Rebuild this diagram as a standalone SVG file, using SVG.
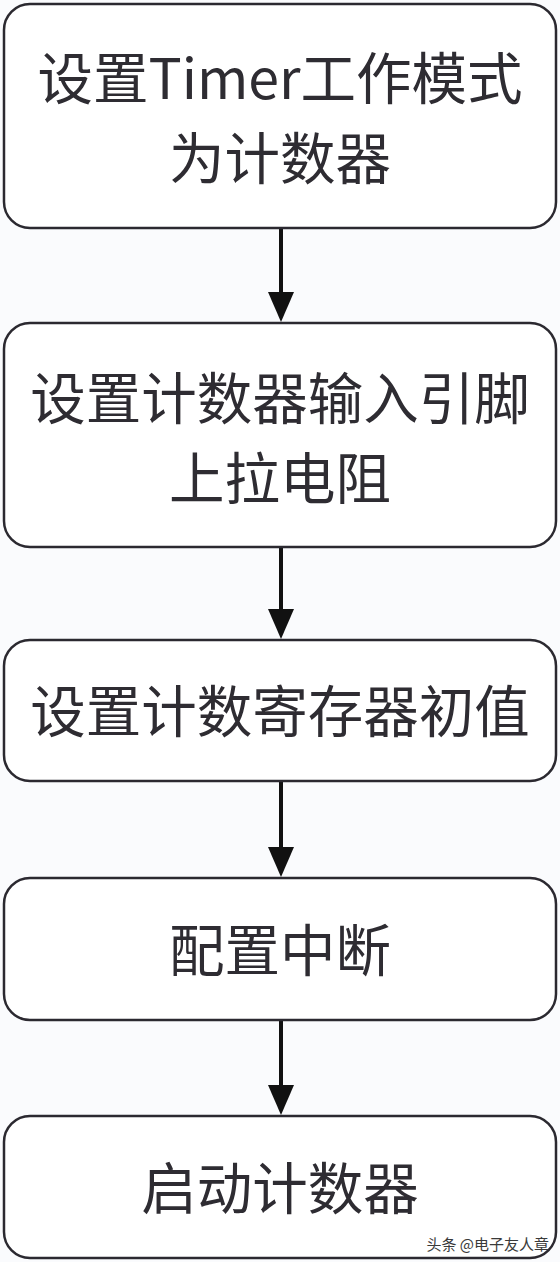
<svg xmlns="http://www.w3.org/2000/svg" width="560" height="1262" viewBox="0 0 560 1262">
<defs>
<style>
.box{fill:#ffffff;stroke:#2b2930;stroke-width:2.5}
.t{font-family:"Noto Sans CJK SC","Noto Sans",sans-serif;font-size:55.5px;font-weight:400;fill:#2e2c32;text-anchor:middle}
.c{stroke:#111;stroke-width:4;fill:none}
.wm{font-family:"Noto Sans CJK SC",sans-serif;font-size:15px;fill:#3a3a3a;text-anchor:end}
</style>
</defs>
<rect width="560" height="1262" fill="#fafbfd"/>
<g id="connectors">
<line class="c" x1="281" y1="229" x2="281" y2="295"/>
<path d="M268,292 L294,292 L281,322 Z" fill="#111"/>
<line class="c" x1="281" y1="548" x2="281" y2="612"/>
<path d="M268,609 L294,609 L281,639 Z" fill="#111"/>
<line class="c" x1="281" y1="782" x2="281" y2="850"/>
<path d="M268,847 L294,847 L281,877 Z" fill="#111"/>
<line class="c" x1="281" y1="1021" x2="281" y2="1088"/>
<path d="M268,1085 L294,1085 L281,1115 Z" fill="#111"/>
</g>
<g id="n1">
<rect class="box" x="4" y="4" width="552" height="224" rx="26"/>
<text class="t" x="280" y="99">设置Timer工作模式</text>
<text class="t" x="280" y="179">为计数器</text>
</g>
<g id="n2">
<rect class="box" x="4" y="323" width="552" height="224" rx="26"/>
<text class="t" x="280" y="419">设置计数器输入引脚</text>
<text class="t" x="280" y="499">上拉电阻</text>
</g>
<g id="n3">
<rect class="box" x="4" y="640" width="552" height="141" rx="26"/>
<text class="t" x="280" y="732">设置计数寄存器初值</text>
</g>
<g id="n4">
<rect class="box" x="4" y="878" width="552" height="142" rx="26"/>
<text class="t" x="280" y="971">配置中断</text>
</g>
<g id="n5">
<rect class="box" x="4" y="1116" width="552" height="142" rx="26"/>
<text class="t" x="280" y="1209">启动计数器</text>
</g>
<text class="wm" x="549" y="1250">头条 @电子友人章</text>
</svg>
